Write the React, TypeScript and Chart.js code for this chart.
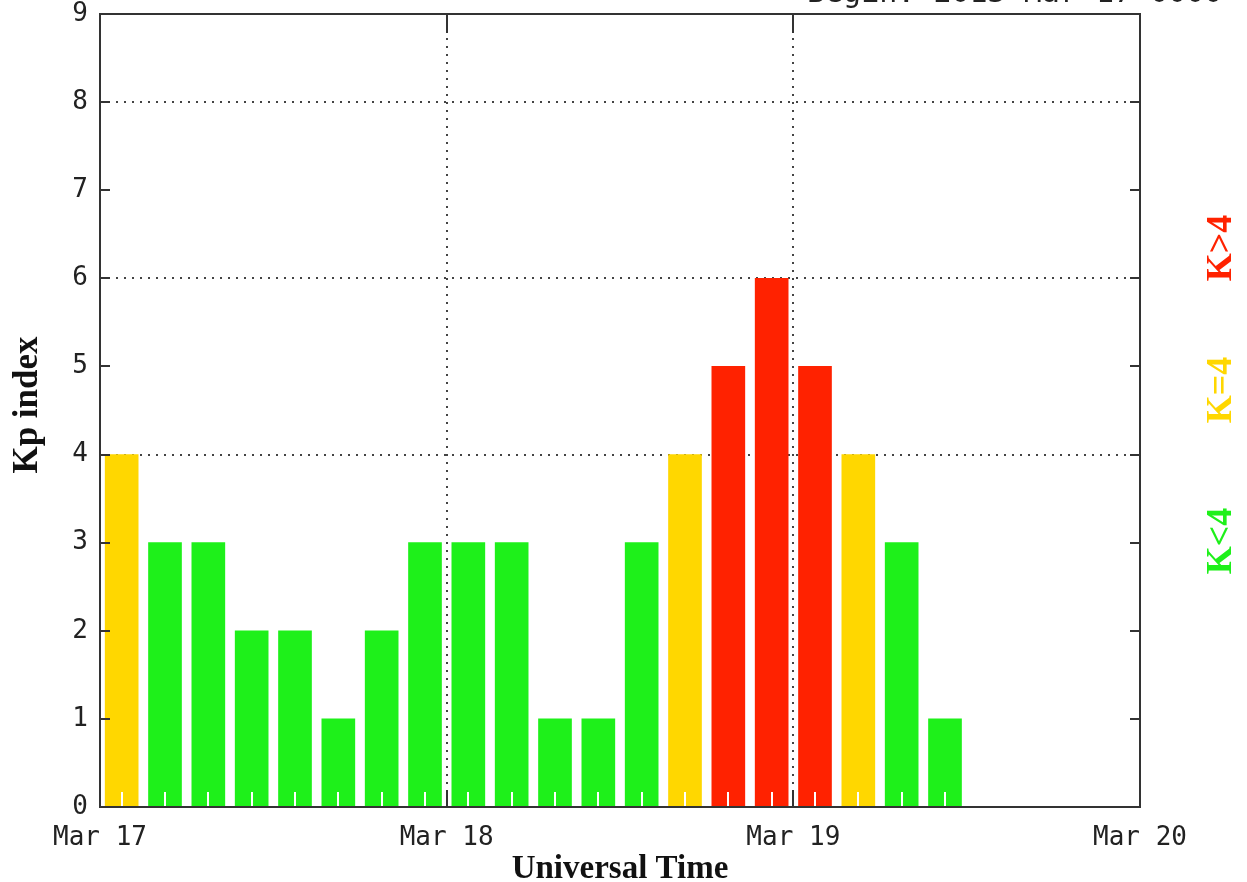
import React, { useEffect, useRef } from 'react';
import { Chart, registerables } from 'chart.js';

Chart.register(...registerables);

// Day boundaries on the time axis (hours since the start of the window)
const dayLabels = ['Mar 17', 'Mar 18', 'Mar 19', 'Mar 20'];
const dayTickHours = [0, 24, 48, 72];

// Centres of the 3-hour Kp intervals, in hours
const intervalMidHours = [
  1.5, 4.5, 7.5, 10.5, 13.5, 16.5, 19.5, 22.5,
  25.5, 28.5, 31.5, 34.5, 37.5, 40.5, 43.5, 46.5,
  49.5, 52.5, 55.5, 58.5,
];

// Planetary K index for each interval
const kpValues = [
  4, 3, 3, 2, 2, 1, 2, 3,
  3, 3, 1, 1, 3, 4, 5, 6,
  5, 4, 3, 1,
];

const kpTicks = [0, 1, 2, 3, 4, 5, 6, 7, 8, 9];
const dottedKpLevels = [4, 6, 8];

const legendLabels = ['K<4', 'K=4', 'K>4'];
const quietColor = '#1ef01a';
const activeColor = '#ffd700';
const stormColor = '#ff2200';
const legendColors = [quietColor, activeColor, stormColor];

const headerText = 'Begin: 2013 Mar 17 0000';

const colorFor = (k: number) => (k < 4 ? quietColor : k === 4 ? activeColor : stormColor);

const line = (ctx: CanvasRenderingContext2D, x1: number, y1: number, x2: number, y2: number) => {
  ctx.beginPath();
  ctx.moveTo(x1, y1);
  ctx.lineTo(x2, y2);
  ctx.stroke();
};

const decorations = {
  id: 'kpDecorations',
  afterDraw(chart: any) {
    const { ctx, chartArea: a, scales } = chart;
    const x = scales.x;
    const y = scales.y;
    ctx.save();

    // small white marks at the foot of each interval
    ctx.strokeStyle = '#ffffff';
    ctx.lineWidth = 2;
    intervalMidHours.forEach((h) => {
      const px = Math.round(x.getPixelForValue(h));
      line(ctx, px, a.bottom, px, a.bottom - 15);
    });

    // plot frame
    ctx.strokeStyle = '#333333';
    ctx.lineWidth = 2;
    ctx.strokeRect(a.left, a.top, a.right - a.left, a.bottom - a.top);

    // inward ticks on both vertical sides
    kpTicks.forEach((v) => {
      const py = Math.round(y.getPixelForValue(v));
      line(ctx, a.left, py, a.left + 10, py);
      line(ctx, a.right, py, a.right - 10, py);
    });

    // inward day ticks on the top and bottom edges
    dayTickHours.slice(1, -1).forEach((h) => {
      const px = Math.round(x.getPixelForValue(h));
      line(ctx, px, a.bottom, px, a.bottom - 17);
      line(ctx, px, a.top, px, a.top + 19);
    });

    // axis titles
    ctx.fillStyle = '#111111';
    ctx.font = 'bold 35px "Liberation Serif"';
    ctx.textAlign = 'center';
    ctx.textBaseline = 'alphabetic';
    ctx.save();
    ctx.translate(37, 405);
    ctx.rotate(-Math.PI / 2);
    ctx.fillText('Kp index', 0, 0);
    ctx.restore();

    ctx.font = 'bold 33px "Liberation Serif"';
    ctx.fillText('Universal Time', (a.left + a.right) / 2, 878);

    // colour key on the right
    const keyCentres = [541, 390, 248];
    ctx.font = 'bold 36px "Liberation Serif"';
    legendLabels.forEach((label, i) => {
      ctx.save();
      ctx.fillStyle = legendColors[i];
      ctx.translate(1231, keyCentres[i]);
      ctx.rotate(-Math.PI / 2);
      ctx.fillText(label, 0, 0);
      ctx.restore();
    });

    // header line, running off the top edge
    ctx.fillStyle = '#222222';
    ctx.font = '30px "DejaVu Sans Mono"';
    ctx.textAlign = 'left';
    ctx.fillText(headerText, 807, 2);

    ctx.restore();
  },
};

export default function App() {
  const canvasRef = useRef<HTMLCanvasElement>(null);

  useEffect(() => {
    document.body.style.margin = '0';
    document.body.style.overflow = 'hidden';
    const canvas = canvasRef.current;
    if (!canvas) return;

    const chart = new Chart(canvas, {
      type: 'bar',
      data: {
        datasets: [
          {
            data: intervalMidHours.map((h, i) => ({ x: h, y: kpValues[i] })),
            backgroundColor: kpValues.map(colorFor),
            borderWidth: 0,
            barThickness: 33,
          },
        ],
      },
      options: {
        animation: false,
        responsive: true,
        maintainAspectRatio: false,
        layout: { padding: { left: 0, top: 14, right: 107, bottom: 0 } },
        plugins: {
          legend: { display: false },
          tooltip: { enabled: false },
          title: { display: false },
        },
        scales: {
          x: {
            type: 'linear',
            min: 0,
            max: 72,
            offset: false,
            z: 1,
            afterBuildTicks: (scale: any) => {
              scale.ticks = dayTickHours.map((v) => ({ value: v }));
            },
            afterFit: (scale: any) => {
              scale.height = 75;
              scale.paddingLeft = 0;
              scale.paddingRight = 0;
            },
            ticks: {
              autoSkip: false,
              maxRotation: 0,
              padding: 16,
              color: '#222222',
              font: { family: '"DejaVu Sans Mono"', size: 26 },
              callback: (v: any) => dayLabels[dayTickHours.indexOf(Number(v))] ?? '',
            },
            grid: {
              offset: false,
              drawTicks: false,
              lineWidth: 2,
              color: (c: any) =>
                c.tick && (c.tick.value === 24 || c.tick.value === 48) ? '#444444' : 'rgba(0,0,0,0)',
            },
            border: { display: false, dash: [2, 6] },
          },
          y: {
            min: 0,
            max: 9,
            z: 1,
            afterBuildTicks: (scale: any) => {
              scale.ticks = kpTicks.map((v) => ({ value: v }));
            },
            afterFit: (scale: any) => {
              scale.width = 100;
              scale.paddingTop = 0;
              scale.paddingBottom = 0;
            },
            ticks: {
              padding: 12,
              color: '#222222',
              font: { family: '"DejaVu Sans Mono"', size: 26 },
            },
            grid: {
              drawTicks: false,
              lineWidth: 2,
              color: (c: any) =>
                c.tick && dottedKpLevels.includes(c.tick.value) ? '#444444' : 'rgba(0,0,0,0)',
            },
            border: { display: false, dash: [2, 6] },
          },
        },
      },
      plugins: [decorations],
    } as any);

    return () => chart.destroy();
  }, []);

  return (
    <div style={{ position: 'relative', width: 1247, height: 882, background: '#ffffff' }}>
      <canvas ref={canvasRef} />
    </div>
  );
}
